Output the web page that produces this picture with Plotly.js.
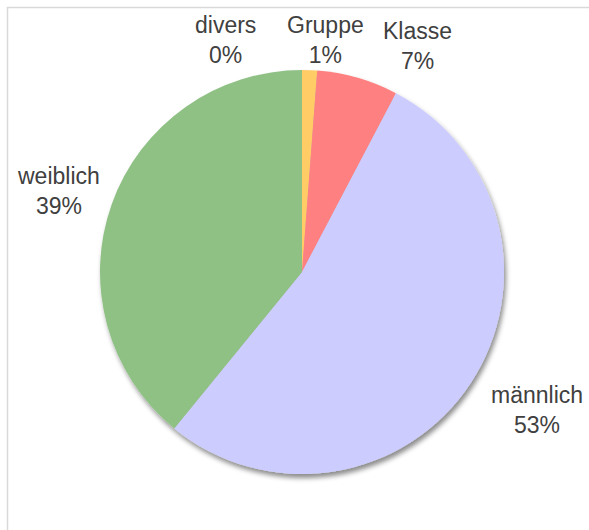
<!DOCTYPE html>
<html>
<head>
<meta charset="utf-8">
<script src="https://cdn.plot.ly/plotly-3.0.1.min.js"></script>
<style>
  html, body { margin: 0; padding: 0; background: #ffffff; }
  #chart { width: 589px; height: 530px; }
</style>
</head>
<body>
<div id="chart"></div>
<script>
// Zusammensetzung nach Geschlecht / Gruppe (Anteile in %)
const categories = ['divers', 'Gruppe', 'Klasse', 'männlich', 'weiblich'];
const shares = [0, 1.2, 6.5, 53.2, 39.1];
const sliceColors = ['#99CCFF', '#FFCC66', '#FF8080', '#CCCCFF', '#8FC185'];

// label placement (pixel centres) around the pie
const labelPos = {
  'divers':   [225, 40],
  'Gruppe':   [325, 40],
  'Klasse':   [417, 46],
  'männlich': [537, 410],
  'weiblich': [58, 191]
};

const W = 589, H = 530;
const cx = 302, cy = 272, r = 202;

const total = shares.reduce((a, b) => a + b, 0);

const annotations = categories.map((c, i) => ({
  xref: 'paper', yref: 'paper',
  x: labelPos[c][0] / W,
  y: 1 - labelPos[c][1] / H,
  xanchor: 'center', yanchor: 'middle',
  text: c + '<br>' + Math.round(shares[i] / total * 100) + '%',
  showarrow: false,
  align: 'center',
  font: { family: 'Liberation Sans, Arial, sans-serif', size: 23, color: '#404040' }
}));

const trace = {
  type: 'pie',
  labels: categories,
  values: shares,
  sort: false,
  direction: 'clockwise',
  rotation: 0,
  textinfo: 'none',
  hoverinfo: 'label+percent',
  marker: { colors: sliceColors, line: { color: '#ffffff', width: 0 } },
  domain: {
    x: [(cx - r) / W, (cx + r) / W],
    y: [1 - (cy + r) / H, 1 - (cy - r) / H]
  }
};

const layout = {
  width: W, height: H,
  margin: { l: 0, r: 0, t: 0, b: 0 },
  paper_bgcolor: '#ffffff',
  showlegend: false,
  annotations: annotations,
  shapes: [{
    type: 'rect', xref: 'paper', yref: 'paper',
    x0: 7.5 / W, x1: 1.05, y0: -0.05, y1: 1 - 7.5 / H,
    line: { color: '#D9D9D9', width: 1.5 },
    fillcolor: 'rgba(0,0,0,0)'
  }]
};

Plotly.newPlot('chart', [trace], layout, { displayModeBar: false, staticPlot: true }).then(gd => {
  // soft drop shadow under the pie
  const svg = gd.querySelector('svg.main-svg');
  const ns = 'http://www.w3.org/2000/svg';
  let defs = svg.querySelector('defs');
  if (!defs) { defs = document.createElementNS(ns, 'defs'); svg.insertBefore(defs, svg.firstChild); }
  const f = document.createElementNS(ns, 'filter');
  f.setAttribute('id', 'pieShadow');
  f.setAttribute('x', '-10%'); f.setAttribute('y', '-10%');
  f.setAttribute('width', '120%'); f.setAttribute('height', '120%');
  f.innerHTML = '<feDropShadow dx="2" dy="4" stdDeviation="2.5" flood-color="#000" flood-opacity="0.45"/>';
  defs.appendChild(f);
  const pie = svg.querySelector('.pielayer');
  if (pie) pie.setAttribute('filter', 'url(#pieShadow)');
});
</script>
</body>
</html>
